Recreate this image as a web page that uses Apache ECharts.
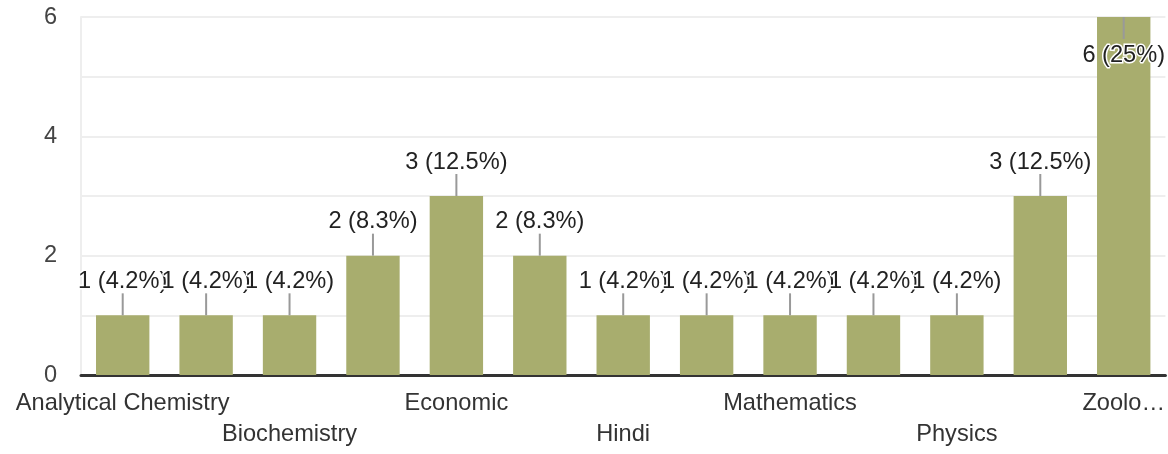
<!DOCTYPE html>
<html>
<head>
    <meta charset="utf-8">
    <title>Subjects</title>
    <script type="text/javascript" src="https://cdn.jsdelivr.net/npm/echarts@6/dist/echarts.min.js"></script>
    <style type="text/css">
        html, body { margin: 0; padding: 0; background: #fff; }
        #main { width: 1168px; height: 454px; }
    </style>
</head>
<body>

<div id="main"></div>

<script type="text/javascript">
    // data
    var subjects = ['Analytical Chemistry', 'Bengali', 'Biochemistry', 'Chemistry', 'Economic', 'English',
        'Hindi', 'History', 'Mathematics', 'Microbiology', 'Physics', 'Political Science', 'Zoology'];
    var counts = [1, 1, 1, 2, 3, 2, 1, 1, 1, 1, 1, 3, 6];
    var yTicks = [0, 2, 4, 6];

    var yMax = 6;
    var fs = 23.6;
    var total = counts.reduce(function (a, b) { return a + b; }, 0);

    function pct(v) {
        var p = (v / total * 100).toFixed(1);
        if (p.slice(-2) === '.0') p = p.slice(0, -2);
        return v + ' (' + p + '%)';
    }

    var myChart = echarts.init(document.getElementById('main'));

    var barData = counts.map(function (v) {
        var item = { value: v };
        if (v >= yMax) {
            // tallest bar: label sits inside, leader points down
            item.label = { position: 'insideTop', distance: 25 };
        }
        return item;
    });

    var leaderData = counts.map(function (v, i) { return [i, v]; });

    var option = {
        animation: false,
        textStyle: { fontFamily: '"Liberation Sans", Arial, sans-serif' },
        grid: { left: 81, right: 2, top: 17, bottom: 79 },
        xAxis: {
            type: 'category',
            data: subjects,
            axisTick: { show: false },
            axisLine: { lineStyle: { color: '#333', width: 3 } },
            axisLabel: {
                interval: 0,
                margin: 13,
                fontSize: fs,
                lineHeight: 31,
                color: '#333',
                formatter: function (value, index) {
                    if (index % 2 === 1) return '';
                    if (index === subjects.length - 1) value = value.slice(0, 5) + '…';
                    return (index / 2) % 2 === 1 ? '\n' + value : value;
                }
            }
        },
        yAxis: {
            type: 'value',
            min: 0,
            max: yMax,
            interval: 1,
            axisLine: { show: true, lineStyle: { color: '#eeeeee', width: 2 } },
            axisTick: { show: false },
            splitLine: { lineStyle: { color: '#eeeeee', width: 2 } },
            axisLabel: {
                margin: 24,
                fontSize: fs,
                color: '#444',
                formatter: function (v) { return yTicks.indexOf(v) >= 0 ? v : ''; }
            }
        },
        series: [{
            type: 'bar',
            data: barData,
            barCategoryGap: '36%',
            itemStyle: { color: '#a8ad6e' },
            label: {
                show: true,
                position: 'top',
                distance: 21,
                fontSize: fs,
                lineHeight: 26,
                color: '#222',
                textBorderColor: '#fff',
                textBorderWidth: 3,
                formatter: function (p) { return pct(p.value); }
            },
            z: 2
        }, {
            // short grey leader lines between bar tops and labels
            type: 'custom',
            data: leaderData,
            encode: { x: 0, y: 1 },
            z: 3,
            renderItem: function (params, api) {
                var pt = api.coord([api.value(0), api.value(1)]);
                var dir = api.value(1) >= yMax ? 1 : -1;
                return {
                    type: 'line',
                    shape: { x1: pt[0], y1: pt[1], x2: pt[0], y2: pt[1] + dir * 22 },
                    style: { stroke: '#999', lineWidth: 2 }
                };
            }
        }]
    };

    myChart.setOption(option);
</script>

</body>
</html>
